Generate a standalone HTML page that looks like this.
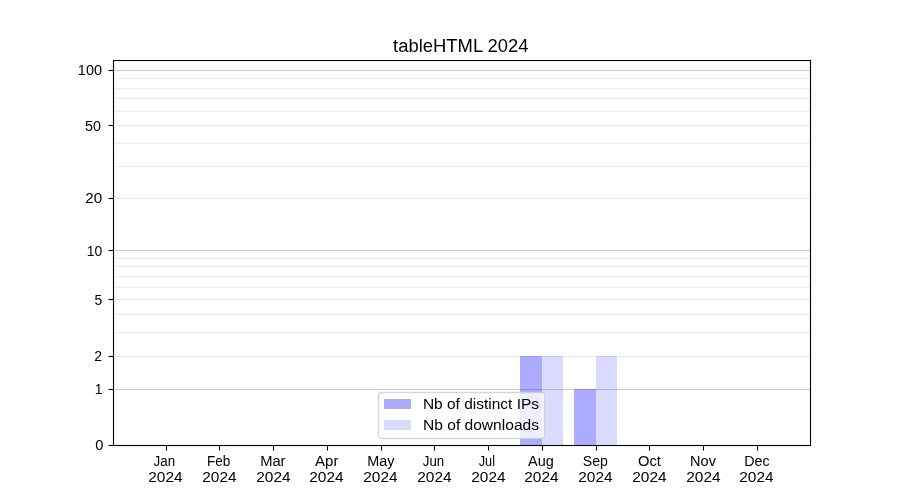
<!DOCTYPE html>
<html><head><meta charset="utf-8"><title>tableHTML 2024</title><style>
html,body{margin:0;padding:0;background:#fff;width:900px;height:500px;overflow:hidden}
svg{display:block;position:absolute;left:0;top:0}
text{font-family:"Liberation Sans", sans-serif;fill:#000;}
.txt{will-change:transform}
</style></head><body>
<svg width="900" height="500" viewBox="0 0 900 500" shape-rendering="crispEdges">
<rect width="900" height="500" fill="#fff"/>
<rect x="114" y="355" width="696" height="1" fill="rgb(253,253,253)"/>
<rect x="114" y="356" width="696" height="1" fill="rgb(235,235,235)"/>
<rect x="114" y="357" width="696" height="1" fill="rgb(253,253,253)"/>
<rect x="114" y="331" width="696" height="1" fill="rgb(253,253,253)"/>
<rect x="114" y="332" width="696" height="1" fill="rgb(235,235,235)"/>
<rect x="114" y="333" width="696" height="1" fill="rgb(253,253,253)"/>
<rect x="114" y="313" width="696" height="1" fill="rgb(253,253,253)"/>
<rect x="114" y="314" width="696" height="1" fill="rgb(235,235,235)"/>
<rect x="114" y="315" width="696" height="1" fill="rgb(253,253,253)"/>
<rect x="114" y="298" width="696" height="1" fill="rgb(253,253,253)"/>
<rect x="114" y="299" width="696" height="1" fill="rgb(235,235,235)"/>
<rect x="114" y="300" width="696" height="1" fill="rgb(253,253,253)"/>
<rect x="114" y="286" width="696" height="1" fill="rgb(253,253,253)"/>
<rect x="114" y="287" width="696" height="1" fill="rgb(235,235,235)"/>
<rect x="114" y="288" width="696" height="1" fill="rgb(253,253,253)"/>
<rect x="114" y="275" width="696" height="1" fill="rgb(253,253,253)"/>
<rect x="114" y="276" width="696" height="1" fill="rgb(235,235,235)"/>
<rect x="114" y="277" width="696" height="1" fill="rgb(253,253,253)"/>
<rect x="114" y="265" width="696" height="1" fill="rgb(253,253,253)"/>
<rect x="114" y="266" width="696" height="1" fill="rgb(235,235,235)"/>
<rect x="114" y="267" width="696" height="1" fill="rgb(253,253,253)"/>
<rect x="114" y="257" width="696" height="1" fill="rgb(253,253,253)"/>
<rect x="114" y="258" width="696" height="1" fill="rgb(235,235,235)"/>
<rect x="114" y="259" width="696" height="1" fill="rgb(253,253,253)"/>
<rect x="114" y="197" width="696" height="1" fill="rgb(253,253,253)"/>
<rect x="114" y="198" width="696" height="1" fill="rgb(235,235,235)"/>
<rect x="114" y="199" width="696" height="1" fill="rgb(253,253,253)"/>
<rect x="114" y="165" width="696" height="1" fill="rgb(253,253,253)"/>
<rect x="114" y="166" width="696" height="1" fill="rgb(235,235,235)"/>
<rect x="114" y="167" width="696" height="1" fill="rgb(253,253,253)"/>
<rect x="114" y="142" width="696" height="1" fill="rgb(253,253,253)"/>
<rect x="114" y="143" width="696" height="1" fill="rgb(235,235,235)"/>
<rect x="114" y="144" width="696" height="1" fill="rgb(253,253,253)"/>
<rect x="114" y="124" width="696" height="1" fill="rgb(253,253,253)"/>
<rect x="114" y="125" width="696" height="1" fill="rgb(235,235,235)"/>
<rect x="114" y="126" width="696" height="1" fill="rgb(253,253,253)"/>
<rect x="114" y="110" width="696" height="1" fill="rgb(253,253,253)"/>
<rect x="114" y="111" width="696" height="1" fill="rgb(235,235,235)"/>
<rect x="114" y="112" width="696" height="1" fill="rgb(253,253,253)"/>
<rect x="114" y="97" width="696" height="1" fill="rgb(253,253,253)"/>
<rect x="114" y="98" width="696" height="1" fill="rgb(235,235,235)"/>
<rect x="114" y="99" width="696" height="1" fill="rgb(253,253,253)"/>
<rect x="114" y="87" width="696" height="1" fill="rgb(253,253,253)"/>
<rect x="114" y="88" width="696" height="1" fill="rgb(235,235,235)"/>
<rect x="114" y="89" width="696" height="1" fill="rgb(253,253,253)"/>
<rect x="114" y="77" width="696" height="1" fill="rgb(253,253,253)"/>
<rect x="114" y="78" width="696" height="1" fill="rgb(235,235,235)"/>
<rect x="114" y="79" width="696" height="1" fill="rgb(253,253,253)"/>
<rect x="114" y="388" width="696" height="1" fill="rgb(252,252,252)"/>
<rect x="114" y="389" width="696" height="1" fill="rgb(207,207,207)"/>
<rect x="114" y="390" width="696" height="1" fill="rgb(252,252,252)"/>
<rect x="114" y="249" width="696" height="1" fill="rgb(252,252,252)"/>
<rect x="114" y="250" width="696" height="1" fill="rgb(207,207,207)"/>
<rect x="114" y="251" width="696" height="1" fill="rgb(252,252,252)"/>
<rect x="114" y="69" width="696" height="1" fill="rgb(252,252,252)"/>
<rect x="114" y="70" width="696" height="1" fill="rgb(207,207,207)"/>
<rect x="114" y="71" width="696" height="1" fill="rgb(252,252,252)"/>
<rect x="520" y="356" width="22" height="89" fill="rgba(0,0,255,0.33)"/>
<rect x="542" y="356" width="21" height="89" fill="rgba(0,0,255,0.14)"/>
<rect x="574" y="389" width="22" height="56" fill="rgba(0,0,255,0.33)"/>
<rect x="596" y="356" width="21" height="89" fill="rgba(0,0,255,0.14)"/>
<rect x="112" y="60" width="1" height="386" fill="rgba(0,0,0,0.0549)"/>
<rect x="114" y="61" width="1" height="384" fill="rgba(0,0,0,0.0549)"/>
<rect x="809" y="61" width="1" height="384" fill="rgba(0,0,0,0.0549)"/>
<rect x="811" y="60" width="1" height="386" fill="rgba(0,0,0,0.0549)"/>
<rect x="113" y="59" width="698" height="1" fill="rgba(0,0,0,0.0549)"/>
<rect x="114" y="61" width="696" height="1" fill="rgba(0,0,0,0.0549)"/>
<rect x="114" y="444" width="696" height="1" fill="rgba(0,0,0,0.0549)"/>
<rect x="113" y="446" width="698" height="1" fill="rgba(0,0,0,0.0549)"/>
<rect x="113" y="446" width="1" height="1" fill="rgba(0,0,0,0.0549)"/>
<rect x="810" y="446" width="1" height="1" fill="rgba(0,0,0,0.0549)"/>
<rect x="811" y="445" width="1" height="1" fill="rgba(0,0,0,0.0549)"/>
<rect x="113" y="59" width="1" height="1" fill="rgba(0,0,0,0.0549)"/>
<rect x="810" y="59" width="1" height="1" fill="rgba(0,0,0,0.0549)"/>
<rect x="112" y="60" width="1" height="1" fill="rgba(0,0,0,0.0549)"/>
<rect x="811" y="60" width="1" height="1" fill="rgba(0,0,0,0.0549)"/>
<rect x="113" y="60" width="698" height="1" fill="#000"/>
<rect x="113" y="445" width="698" height="1" fill="#000"/>
<rect x="113" y="60" width="1" height="386" fill="#000"/>
<rect x="810" y="60" width="1" height="386" fill="#000"/>
<rect x="109" y="444" width="4" height="1" fill="rgba(0,0,0,0.0549)"/>
<rect x="109" y="446" width="4" height="1" fill="rgba(0,0,0,0.0549)"/>
<rect x="109" y="445" width="4" height="1" fill="#000"/>
<rect x="108" y="445" width="1" height="1" fill="rgba(0,0,0,0.502)"/>
<rect x="108" y="444" width="1" height="1" fill="rgba(0,0,0,0.027)"/>
<rect x="108" y="446" width="1" height="1" fill="rgba(0,0,0,0.027)"/>
<rect x="109" y="388" width="4" height="1" fill="rgba(0,0,0,0.0549)"/>
<rect x="109" y="390" width="4" height="1" fill="rgba(0,0,0,0.0549)"/>
<rect x="109" y="389" width="4" height="1" fill="#000"/>
<rect x="108" y="389" width="1" height="1" fill="rgba(0,0,0,0.502)"/>
<rect x="108" y="388" width="1" height="1" fill="rgba(0,0,0,0.027)"/>
<rect x="108" y="390" width="1" height="1" fill="rgba(0,0,0,0.027)"/>
<rect x="109" y="355" width="4" height="1" fill="rgba(0,0,0,0.0549)"/>
<rect x="109" y="357" width="4" height="1" fill="rgba(0,0,0,0.0549)"/>
<rect x="109" y="356" width="4" height="1" fill="#000"/>
<rect x="108" y="356" width="1" height="1" fill="rgba(0,0,0,0.502)"/>
<rect x="108" y="355" width="1" height="1" fill="rgba(0,0,0,0.027)"/>
<rect x="108" y="357" width="1" height="1" fill="rgba(0,0,0,0.027)"/>
<rect x="109" y="298" width="4" height="1" fill="rgba(0,0,0,0.0549)"/>
<rect x="109" y="300" width="4" height="1" fill="rgba(0,0,0,0.0549)"/>
<rect x="109" y="299" width="4" height="1" fill="#000"/>
<rect x="108" y="299" width="1" height="1" fill="rgba(0,0,0,0.502)"/>
<rect x="108" y="298" width="1" height="1" fill="rgba(0,0,0,0.027)"/>
<rect x="108" y="300" width="1" height="1" fill="rgba(0,0,0,0.027)"/>
<rect x="109" y="249" width="4" height="1" fill="rgba(0,0,0,0.0549)"/>
<rect x="109" y="251" width="4" height="1" fill="rgba(0,0,0,0.0549)"/>
<rect x="109" y="250" width="4" height="1" fill="#000"/>
<rect x="108" y="250" width="1" height="1" fill="rgba(0,0,0,0.502)"/>
<rect x="108" y="249" width="1" height="1" fill="rgba(0,0,0,0.027)"/>
<rect x="108" y="251" width="1" height="1" fill="rgba(0,0,0,0.027)"/>
<rect x="109" y="197" width="4" height="1" fill="rgba(0,0,0,0.0549)"/>
<rect x="109" y="199" width="4" height="1" fill="rgba(0,0,0,0.0549)"/>
<rect x="109" y="198" width="4" height="1" fill="#000"/>
<rect x="108" y="198" width="1" height="1" fill="rgba(0,0,0,0.502)"/>
<rect x="108" y="197" width="1" height="1" fill="rgba(0,0,0,0.027)"/>
<rect x="108" y="199" width="1" height="1" fill="rgba(0,0,0,0.027)"/>
<rect x="109" y="124" width="4" height="1" fill="rgba(0,0,0,0.0549)"/>
<rect x="109" y="126" width="4" height="1" fill="rgba(0,0,0,0.0549)"/>
<rect x="109" y="125" width="4" height="1" fill="#000"/>
<rect x="108" y="125" width="1" height="1" fill="rgba(0,0,0,0.502)"/>
<rect x="108" y="124" width="1" height="1" fill="rgba(0,0,0,0.027)"/>
<rect x="108" y="126" width="1" height="1" fill="rgba(0,0,0,0.027)"/>
<rect x="109" y="69" width="4" height="1" fill="rgba(0,0,0,0.0549)"/>
<rect x="109" y="71" width="4" height="1" fill="rgba(0,0,0,0.0549)"/>
<rect x="109" y="70" width="4" height="1" fill="#000"/>
<rect x="108" y="70" width="1" height="1" fill="rgba(0,0,0,0.502)"/>
<rect x="108" y="69" width="1" height="1" fill="rgba(0,0,0,0.027)"/>
<rect x="108" y="71" width="1" height="1" fill="rgba(0,0,0,0.027)"/>
<rect x="165" y="446" width="1" height="4" fill="rgba(0,0,0,0.0549)"/>
<rect x="167" y="446" width="1" height="4" fill="rgba(0,0,0,0.0549)"/>
<rect x="166" y="446" width="1" height="4" fill="#000"/>
<rect x="166" y="450" width="1" height="1" fill="rgba(0,0,0,0.502)"/>
<rect x="165" y="450" width="1" height="1" fill="rgba(0,0,0,0.027)"/>
<rect x="167" y="450" width="1" height="1" fill="rgba(0,0,0,0.027)"/>
<rect x="218" y="446" width="1" height="4" fill="rgba(0,0,0,0.0549)"/>
<rect x="220" y="446" width="1" height="4" fill="rgba(0,0,0,0.0549)"/>
<rect x="219" y="446" width="1" height="4" fill="#000"/>
<rect x="219" y="450" width="1" height="1" fill="rgba(0,0,0,0.502)"/>
<rect x="218" y="450" width="1" height="1" fill="rgba(0,0,0,0.027)"/>
<rect x="220" y="450" width="1" height="1" fill="rgba(0,0,0,0.027)"/>
<rect x="272" y="446" width="1" height="4" fill="rgba(0,0,0,0.0549)"/>
<rect x="274" y="446" width="1" height="4" fill="rgba(0,0,0,0.0549)"/>
<rect x="273" y="446" width="1" height="4" fill="#000"/>
<rect x="273" y="450" width="1" height="1" fill="rgba(0,0,0,0.502)"/>
<rect x="272" y="450" width="1" height="1" fill="rgba(0,0,0,0.027)"/>
<rect x="274" y="450" width="1" height="1" fill="rgba(0,0,0,0.027)"/>
<rect x="326" y="446" width="1" height="4" fill="rgba(0,0,0,0.0549)"/>
<rect x="328" y="446" width="1" height="4" fill="rgba(0,0,0,0.0549)"/>
<rect x="327" y="446" width="1" height="4" fill="#000"/>
<rect x="327" y="450" width="1" height="1" fill="rgba(0,0,0,0.502)"/>
<rect x="326" y="450" width="1" height="1" fill="rgba(0,0,0,0.027)"/>
<rect x="328" y="450" width="1" height="1" fill="rgba(0,0,0,0.027)"/>
<rect x="380" y="446" width="1" height="4" fill="rgba(0,0,0,0.0549)"/>
<rect x="382" y="446" width="1" height="4" fill="rgba(0,0,0,0.0549)"/>
<rect x="381" y="446" width="1" height="4" fill="#000"/>
<rect x="381" y="450" width="1" height="1" fill="rgba(0,0,0,0.502)"/>
<rect x="380" y="450" width="1" height="1" fill="rgba(0,0,0,0.027)"/>
<rect x="382" y="450" width="1" height="1" fill="rgba(0,0,0,0.027)"/>
<rect x="433" y="446" width="1" height="4" fill="rgba(0,0,0,0.0549)"/>
<rect x="435" y="446" width="1" height="4" fill="rgba(0,0,0,0.0549)"/>
<rect x="434" y="446" width="1" height="4" fill="#000"/>
<rect x="434" y="450" width="1" height="1" fill="rgba(0,0,0,0.502)"/>
<rect x="433" y="450" width="1" height="1" fill="rgba(0,0,0,0.027)"/>
<rect x="435" y="450" width="1" height="1" fill="rgba(0,0,0,0.027)"/>
<rect x="487" y="446" width="1" height="4" fill="rgba(0,0,0,0.0549)"/>
<rect x="489" y="446" width="1" height="4" fill="rgba(0,0,0,0.0549)"/>
<rect x="488" y="446" width="1" height="4" fill="#000"/>
<rect x="488" y="450" width="1" height="1" fill="rgba(0,0,0,0.502)"/>
<rect x="487" y="450" width="1" height="1" fill="rgba(0,0,0,0.027)"/>
<rect x="489" y="450" width="1" height="1" fill="rgba(0,0,0,0.027)"/>
<rect x="541" y="446" width="1" height="4" fill="rgba(0,0,0,0.0549)"/>
<rect x="543" y="446" width="1" height="4" fill="rgba(0,0,0,0.0549)"/>
<rect x="542" y="446" width="1" height="4" fill="#000"/>
<rect x="542" y="450" width="1" height="1" fill="rgba(0,0,0,0.502)"/>
<rect x="541" y="450" width="1" height="1" fill="rgba(0,0,0,0.027)"/>
<rect x="543" y="450" width="1" height="1" fill="rgba(0,0,0,0.027)"/>
<rect x="595" y="446" width="1" height="4" fill="rgba(0,0,0,0.0549)"/>
<rect x="597" y="446" width="1" height="4" fill="rgba(0,0,0,0.0549)"/>
<rect x="596" y="446" width="1" height="4" fill="#000"/>
<rect x="596" y="450" width="1" height="1" fill="rgba(0,0,0,0.502)"/>
<rect x="595" y="450" width="1" height="1" fill="rgba(0,0,0,0.027)"/>
<rect x="597" y="450" width="1" height="1" fill="rgba(0,0,0,0.027)"/>
<rect x="648" y="446" width="1" height="4" fill="rgba(0,0,0,0.0549)"/>
<rect x="650" y="446" width="1" height="4" fill="rgba(0,0,0,0.0549)"/>
<rect x="649" y="446" width="1" height="4" fill="#000"/>
<rect x="649" y="450" width="1" height="1" fill="rgba(0,0,0,0.502)"/>
<rect x="648" y="450" width="1" height="1" fill="rgba(0,0,0,0.027)"/>
<rect x="650" y="450" width="1" height="1" fill="rgba(0,0,0,0.027)"/>
<rect x="702" y="446" width="1" height="4" fill="rgba(0,0,0,0.0549)"/>
<rect x="704" y="446" width="1" height="4" fill="rgba(0,0,0,0.0549)"/>
<rect x="703" y="446" width="1" height="4" fill="#000"/>
<rect x="703" y="450" width="1" height="1" fill="rgba(0,0,0,0.502)"/>
<rect x="702" y="450" width="1" height="1" fill="rgba(0,0,0,0.027)"/>
<rect x="704" y="450" width="1" height="1" fill="rgba(0,0,0,0.027)"/>
<rect x="756" y="446" width="1" height="4" fill="rgba(0,0,0,0.0549)"/>
<rect x="758" y="446" width="1" height="4" fill="rgba(0,0,0,0.0549)"/>
<rect x="757" y="446" width="1" height="4" fill="#000"/>
<rect x="757" y="450" width="1" height="1" fill="rgba(0,0,0,0.502)"/>
<rect x="756" y="450" width="1" height="1" fill="rgba(0,0,0,0.027)"/>
<rect x="758" y="450" width="1" height="1" fill="rgba(0,0,0,0.027)"/>
<rect x="379" y="393" width="165" height="45" fill="rgba(255,255,255,0.8)"/>
<rect x="380" y="392" width="163" height="1" fill="rgba(255,255,255,0.4)"/>
<rect x="380" y="438" width="163" height="1" fill="rgba(255,255,255,0.4)"/>
<rect x="378" y="394" width="1" height="43" fill="rgba(255,255,255,0.4)"/>
<rect x="544" y="394" width="1" height="43" fill="rgba(255,255,255,0.4)"/>
<rect x="382" y="391" width="159" height="1" fill="rgba(204,204,204,0.157)"/>
<rect x="382" y="392" width="159" height="1" fill="rgba(204,204,204,0.804)"/>
<rect x="382" y="393" width="159" height="1" fill="rgba(204,204,204,0.157)"/>
<rect x="382" y="439" width="159" height="1" fill="rgba(204,204,204,0.157)"/>
<rect x="382" y="438" width="159" height="1" fill="rgba(204,204,204,0.804)"/>
<rect x="382" y="437" width="159" height="1" fill="rgba(204,204,204,0.157)"/>
<rect x="377" y="396" width="1" height="39" fill="rgba(204,204,204,0.157)"/>
<rect x="378" y="396" width="1" height="39" fill="rgba(204,204,204,0.804)"/>
<rect x="379" y="396" width="1" height="39" fill="rgba(204,204,204,0.157)"/>
<rect x="545" y="396" width="1" height="39" fill="rgba(204,204,204,0.157)"/>
<rect x="544" y="396" width="1" height="39" fill="rgba(204,204,204,0.804)"/>
<rect x="543" y="396" width="1" height="39" fill="rgba(204,204,204,0.157)"/>
<rect x="380" y="391" width="1" height="1" fill="rgba(204,204,204,0.059)"/>
<rect x="542" y="391" width="1" height="1" fill="rgba(204,204,204,0.059)"/>
<rect x="380" y="439" width="1" height="1" fill="rgba(204,204,204,0.059)"/>
<rect x="542" y="439" width="1" height="1" fill="rgba(204,204,204,0.059)"/>
<rect x="381" y="391" width="1" height="1" fill="rgba(204,204,204,0.157)"/>
<rect x="541" y="391" width="1" height="1" fill="rgba(204,204,204,0.157)"/>
<rect x="381" y="439" width="1" height="1" fill="rgba(204,204,204,0.157)"/>
<rect x="541" y="439" width="1" height="1" fill="rgba(204,204,204,0.157)"/>
<rect x="378" y="392" width="1" height="1" fill="rgba(204,204,204,0.020)"/>
<rect x="544" y="392" width="1" height="1" fill="rgba(204,204,204,0.020)"/>
<rect x="378" y="438" width="1" height="1" fill="rgba(204,204,204,0.020)"/>
<rect x="544" y="438" width="1" height="1" fill="rgba(204,204,204,0.020)"/>
<rect x="379" y="392" width="1" height="1" fill="rgba(204,204,204,0.490)"/>
<rect x="543" y="392" width="1" height="1" fill="rgba(204,204,204,0.490)"/>
<rect x="379" y="438" width="1" height="1" fill="rgba(204,204,204,0.490)"/>
<rect x="543" y="438" width="1" height="1" fill="rgba(204,204,204,0.490)"/>
<rect x="380" y="392" width="1" height="1" fill="rgba(204,204,204,0.804)"/>
<rect x="542" y="392" width="1" height="1" fill="rgba(204,204,204,0.804)"/>
<rect x="380" y="438" width="1" height="1" fill="rgba(204,204,204,0.804)"/>
<rect x="542" y="438" width="1" height="1" fill="rgba(204,204,204,0.804)"/>
<rect x="381" y="392" width="1" height="1" fill="rgba(204,204,204,0.804)"/>
<rect x="541" y="392" width="1" height="1" fill="rgba(204,204,204,0.804)"/>
<rect x="381" y="438" width="1" height="1" fill="rgba(204,204,204,0.804)"/>
<rect x="541" y="438" width="1" height="1" fill="rgba(204,204,204,0.804)"/>
<rect x="378" y="393" width="1" height="1" fill="rgba(204,204,204,0.490)"/>
<rect x="544" y="393" width="1" height="1" fill="rgba(204,204,204,0.490)"/>
<rect x="378" y="437" width="1" height="1" fill="rgba(204,204,204,0.490)"/>
<rect x="544" y="437" width="1" height="1" fill="rgba(204,204,204,0.490)"/>
<rect x="379" y="393" width="1" height="1" fill="rgba(204,204,204,0.804)"/>
<rect x="543" y="393" width="1" height="1" fill="rgba(204,204,204,0.804)"/>
<rect x="379" y="437" width="1" height="1" fill="rgba(204,204,204,0.804)"/>
<rect x="543" y="437" width="1" height="1" fill="rgba(204,204,204,0.804)"/>
<rect x="380" y="393" width="1" height="1" fill="rgba(204,204,204,0.373)"/>
<rect x="542" y="393" width="1" height="1" fill="rgba(204,204,204,0.373)"/>
<rect x="380" y="437" width="1" height="1" fill="rgba(204,204,204,0.373)"/>
<rect x="542" y="437" width="1" height="1" fill="rgba(204,204,204,0.373)"/>
<rect x="381" y="393" width="1" height="1" fill="rgba(204,204,204,0.176)"/>
<rect x="541" y="393" width="1" height="1" fill="rgba(204,204,204,0.176)"/>
<rect x="381" y="437" width="1" height="1" fill="rgba(204,204,204,0.176)"/>
<rect x="541" y="437" width="1" height="1" fill="rgba(204,204,204,0.176)"/>
<rect x="377" y="394" width="1" height="1" fill="rgba(204,204,204,0.059)"/>
<rect x="545" y="394" width="1" height="1" fill="rgba(204,204,204,0.059)"/>
<rect x="377" y="436" width="1" height="1" fill="rgba(204,204,204,0.059)"/>
<rect x="545" y="436" width="1" height="1" fill="rgba(204,204,204,0.059)"/>
<rect x="378" y="394" width="1" height="1" fill="rgba(204,204,204,0.804)"/>
<rect x="544" y="394" width="1" height="1" fill="rgba(204,204,204,0.804)"/>
<rect x="378" y="436" width="1" height="1" fill="rgba(204,204,204,0.804)"/>
<rect x="544" y="436" width="1" height="1" fill="rgba(204,204,204,0.804)"/>
<rect x="379" y="394" width="1" height="1" fill="rgba(204,204,204,0.373)"/>
<rect x="543" y="394" width="1" height="1" fill="rgba(204,204,204,0.373)"/>
<rect x="379" y="436" width="1" height="1" fill="rgba(204,204,204,0.373)"/>
<rect x="543" y="436" width="1" height="1" fill="rgba(204,204,204,0.373)"/>
<rect x="377" y="395" width="1" height="1" fill="rgba(204,204,204,0.157)"/>
<rect x="545" y="395" width="1" height="1" fill="rgba(204,204,204,0.157)"/>
<rect x="377" y="435" width="1" height="1" fill="rgba(204,204,204,0.157)"/>
<rect x="545" y="435" width="1" height="1" fill="rgba(204,204,204,0.157)"/>
<rect x="378" y="395" width="1" height="1" fill="rgba(204,204,204,0.804)"/>
<rect x="544" y="395" width="1" height="1" fill="rgba(204,204,204,0.804)"/>
<rect x="378" y="435" width="1" height="1" fill="rgba(204,204,204,0.804)"/>
<rect x="544" y="435" width="1" height="1" fill="rgba(204,204,204,0.804)"/>
<rect x="379" y="395" width="1" height="1" fill="rgba(204,204,204,0.176)"/>
<rect x="543" y="395" width="1" height="1" fill="rgba(204,204,204,0.176)"/>
<rect x="379" y="435" width="1" height="1" fill="rgba(204,204,204,0.176)"/>
<rect x="543" y="435" width="1" height="1" fill="rgba(204,204,204,0.176)"/>
<rect x="384" y="399" width="27" height="10" fill="rgba(0,0,255,0.33)"/>
<rect x="384" y="420" width="27" height="10" fill="rgba(0,0,255,0.14)"/>
</svg>
<svg class="txt" width="900" height="500" viewBox="0 0 900 500">
<text id="title" x="460.815" y="52.000" text-anchor="middle" font-size="17.640" textLength="135.496" lengthAdjust="spacingAndGlyphs">tableHTML 2024</text>
<text id="y0" x="103.506" y="450.000" text-anchor="end" font-size="14.700" textLength="8.169" lengthAdjust="spacingAndGlyphs">0</text>
<text id="y1" x="102.477" y="394.000" text-anchor="end" font-size="14.700" textLength="7.722" lengthAdjust="spacingAndGlyphs">1</text>
<text id="y2" x="102.144" y="361.000" text-anchor="end" font-size="14.700" textLength="7.812" lengthAdjust="spacingAndGlyphs">2</text>
<text id="y5" x="102.137" y="305.000" text-anchor="end" font-size="14.700" textLength="7.693" lengthAdjust="spacingAndGlyphs">5</text>
<text id="y10" x="102.306" y="256.000" text-anchor="end" font-size="14.700" textLength="15.473" lengthAdjust="spacingAndGlyphs">10</text>
<text id="y20" x="102.134" y="203.000" text-anchor="end" font-size="14.700" textLength="16.902" lengthAdjust="spacingAndGlyphs">20</text>
<text id="y50" x="100.954" y="131.000" text-anchor="end" font-size="14.700" textLength="15.894" lengthAdjust="spacingAndGlyphs">50</text>
<text id="y100" x="102.073" y="75.000" text-anchor="end" font-size="14.700" textLength="24.199" lengthAdjust="spacingAndGlyphs">100</text>
<text id="xm0" x="164.310" y="466.000" text-anchor="middle" font-size="14.700" textLength="21.520" lengthAdjust="spacingAndGlyphs">Jan</text>
<text id="xy0" x="165.428" y="482.000" text-anchor="middle" font-size="14.700" textLength="34.389" lengthAdjust="spacingAndGlyphs">2024</text>
<text id="xm1" x="218.663" y="466.000" text-anchor="middle" font-size="14.700" textLength="23.293" lengthAdjust="spacingAndGlyphs">Feb</text>
<text id="xy1" x="219.428" y="482.000" text-anchor="middle" font-size="14.700" textLength="34.389" lengthAdjust="spacingAndGlyphs">2024</text>
<text id="xm2" x="272.848" y="466.000" text-anchor="middle" font-size="14.700" textLength="25.376" lengthAdjust="spacingAndGlyphs">Mar</text>
<text id="xy2" x="273.428" y="482.000" text-anchor="middle" font-size="14.700" textLength="34.389" lengthAdjust="spacingAndGlyphs">2024</text>
<text id="xm3" x="326.758" y="466.000" text-anchor="middle" font-size="14.700" textLength="23.336" lengthAdjust="spacingAndGlyphs">Apr</text>
<text id="xy3" x="326.428" y="482.000" text-anchor="middle" font-size="14.700" textLength="34.389" lengthAdjust="spacingAndGlyphs">2024</text>
<text id="xm4" x="380.869" y="466.000" text-anchor="middle" font-size="14.700" textLength="27.178" lengthAdjust="spacingAndGlyphs">May</text>
<text id="xy4" x="380.428" y="482.000" text-anchor="middle" font-size="14.700" textLength="34.389" lengthAdjust="spacingAndGlyphs">2024</text>
<text id="xm5" x="433.460" y="466.000" text-anchor="middle" font-size="14.700" textLength="21.384" lengthAdjust="spacingAndGlyphs">Jun</text>
<text id="xy5" x="434.428" y="482.000" text-anchor="middle" font-size="14.700" textLength="34.389" lengthAdjust="spacingAndGlyphs">2024</text>
<text id="xm6" x="486.882" y="466.000" text-anchor="middle" font-size="14.700" textLength="16.273" lengthAdjust="spacingAndGlyphs">Jul</text>
<text id="xy6" x="488.428" y="482.000" text-anchor="middle" font-size="14.700" textLength="34.389" lengthAdjust="spacingAndGlyphs">2024</text>
<text id="xm7" x="540.960" y="466.000" text-anchor="middle" font-size="14.700" textLength="25.758" lengthAdjust="spacingAndGlyphs">Aug</text>
<text id="xy7" x="541.428" y="482.000" text-anchor="middle" font-size="14.700" textLength="34.389" lengthAdjust="spacingAndGlyphs">2024</text>
<text id="xm8" x="595.405" y="466.000" text-anchor="middle" font-size="14.700" textLength="25.136" lengthAdjust="spacingAndGlyphs">Sep</text>
<text id="xy8" x="595.428" y="482.000" text-anchor="middle" font-size="14.700" textLength="34.389" lengthAdjust="spacingAndGlyphs">2024</text>
<text id="xm9" x="649.490" y="466.000" text-anchor="middle" font-size="14.700" textLength="22.960" lengthAdjust="spacingAndGlyphs">Oct</text>
<text id="xy9" x="649.428" y="482.000" text-anchor="middle" font-size="14.700" textLength="34.389" lengthAdjust="spacingAndGlyphs">2024</text>
<text id="xm10" x="703.006" y="466.000" text-anchor="middle" font-size="14.700" textLength="25.765" lengthAdjust="spacingAndGlyphs">Nov</text>
<text id="xy10" x="703.428" y="482.000" text-anchor="middle" font-size="14.700" textLength="34.389" lengthAdjust="spacingAndGlyphs">2024</text>
<text id="xm11" x="756.894" y="466.000" text-anchor="middle" font-size="14.700" textLength="25.331" lengthAdjust="spacingAndGlyphs">Dec</text>
<text id="xy11" x="756.428" y="482.000" text-anchor="middle" font-size="14.700" textLength="34.389" lengthAdjust="spacingAndGlyphs">2024</text>
<text id="leg1" x="422.948" y="409.000" text-anchor="start" font-size="14.700" textLength="116.083" lengthAdjust="spacingAndGlyphs">Nb of distinct IPs</text>
<text id="leg2" x="423.023" y="430.000" text-anchor="start" font-size="14.700" textLength="115.988" lengthAdjust="spacingAndGlyphs">Nb of downloads</text>
</svg>
</body></html>
